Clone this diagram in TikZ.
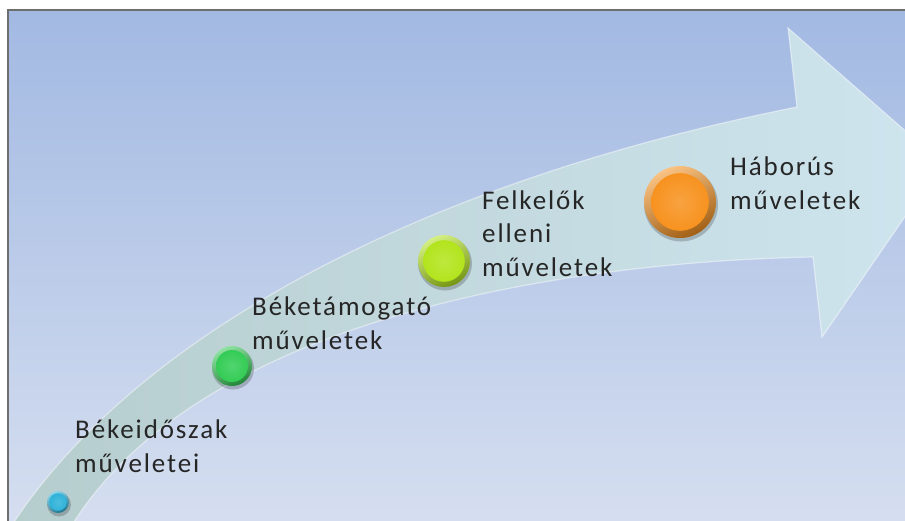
\documentclass[tikz,border=0pt]{standalone}
\usepackage{fontspec}
\setmainfont{Carlito}[LetterSpace=7]

\definecolor{bgtop}{HTML}{A2B9E2}
\definecolor{bgbot}{HTML}{D6DFF0}
\definecolor{frameline}{HTML}{6E6E6E}
\definecolor{bandtail}{HTML}{B6CDCE}
\definecolor{bandhead}{HTML}{CFE5EF}
\definecolor{txt}{HTML}{262626}
\definecolor{kblue}{HTML}{2EB2D9}
\definecolor{kgreen}{HTML}{33CC55}
\definecolor{klime}{HTML}{B2E41C}
\definecolor{korange}{HTML}{F7921F}

% button: name, centre, radius, colour
\newcommand\knob[4]{%
  \fill[black,opacity=.2,xshift=1pt,yshift=-2.5pt] (#2) circle[radius=#3+1];
  \node[knob={2*#3pt},top color=#4!55!white,bottom color=#4!65!black,shading angle=25] (#1) at (#2) {};
  \shade[inner color=#4!85!white,outer color=#4] (#1) circle[radius=0.8*#3];
}

\begin{document}
\begin{tikzpicture}[x=1pt,y=-1pt,
    knob/.style={circle,inner sep=0pt,minimum size=#1},
    lbl/.style={anchor=base west,inner sep=0pt,align=left,text=txt,
      font=\fontsize{27}{33.5}\selectfont}]
    \useasboundingbox (0,0) rectangle (905,520);
    \clip (0,0) rectangle (905,520);

    % background and frame
    \fill[white] (0,0) rectangle (905,520);
    \shade[top color=bgtop,bottom color=bgbot] (8,10) rectangle (915,530);
    \draw[frameline,line width=1.5pt] (8,530) -- (8,10) -- (915,10);

    % curved arrow
    \shade[left color=bandtail,right color=bandhead]
        (12,525) .. controls (140,330) and (430,180) .. (797,107)
        -- (788,28) -- (942,163) -- (822,337) -- (813,257)
        .. controls (560,262) and (200,320) .. (72,525) -- cycle;
    \draw[white,opacity=.45,line width=1.2pt]
        (12,525) .. controls (140,330) and (430,180) .. (797,107)
        -- (788,28) -- (942,163) -- (822,337) -- (813,257)
        .. controls (560,262) and (200,320) .. (72,525);

    % stages
    \knob{k1}{58,502}{11}{kblue}
    \knob{k2}{232,366}{20}{kgreen}
    \knob{k3}{444,261}{26}{klime}
    \knob{k4}{680,202}{36}{korange}

    % labels, placed by their last line
    \node[lbl] (l1) at (75,472) {Békeidőszak\\műveletei};
    \node[lbl] (l2) at (252,349) {Béketámogató\\műveletek};
    \node[lbl] (l3) at (482,276) {Felkelők\\elleni\\műveletek};
    \node[lbl] (l4) at (730,209) {Háborús\\műveletek};
\end{tikzpicture}
\end{document}
